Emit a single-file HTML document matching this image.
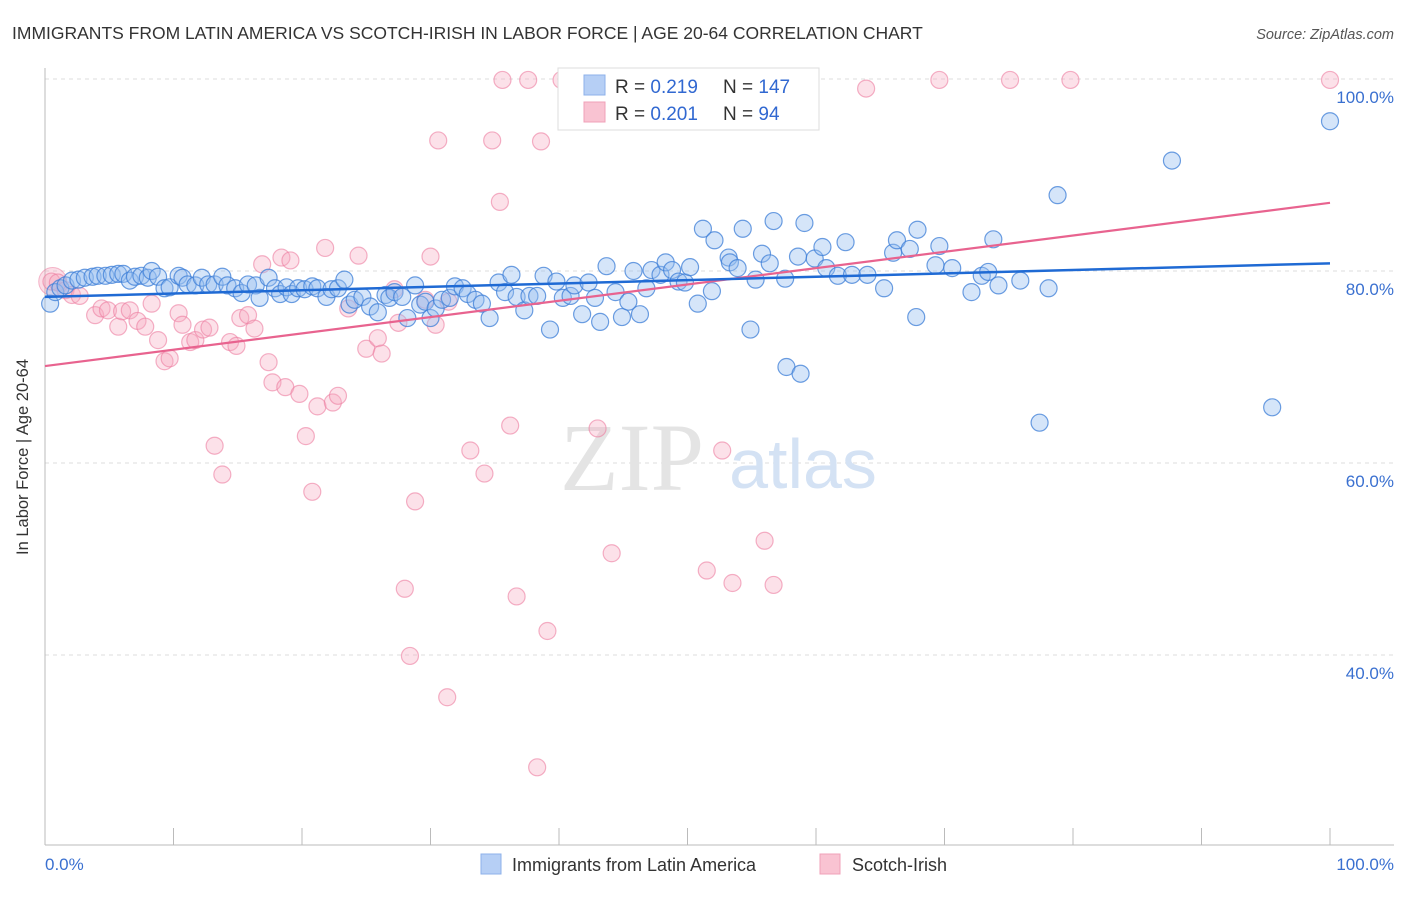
<!DOCTYPE html>
<html><head><meta charset="utf-8"><style>
body{margin:0;background:#fff;font-family:"Liberation Sans",sans-serif;}
svg text{font-family:"Liberation Sans",sans-serif;}
</style></head><body>
<svg id="chart" width="1406" height="892" viewBox="0 0 1406 892">
<text x="12" y="39" font-size="17.5" fill="#333">IMMIGRANTS FROM LATIN AMERICA VS SCOTCH-IRISH IN LABOR FORCE | AGE 20-64 CORRELATION CHART</text>
<text x="1394" y="39" font-size="14.5" fill="#555" font-style="italic" text-anchor="end">Source: ZipAtlas.com</text>
<g id="grid"></g>
<g>
<text x="632" y="490" font-size="96" font-family="Liberation Serif" fill="#e4e4e4" text-anchor="middle" style="font-family:'Liberation Serif',serif">ZIP</text>
<text x="803" y="488" font-size="70" fill="#d4e2f4" text-anchor="middle">atlas</text>
</g>
<line x1="45" y1="68" x2="45" y2="845" stroke="#bbb"/>
<line x1="45" y1="845" x2="1394" y2="845" stroke="#bbb"/>
<g id="xticks"></g>
<g id="yticks"></g>
<g id="pinkpts"></g>
<g id="bluepts"></g>
<g id="trends"></g>
<text x="28" y="457" font-size="16.5" fill="#333" text-anchor="middle" transform="rotate(-90 28 457)">In Labor Force | Age 20-64</text>
<text x="45" y="870" font-size="17" fill="#3a70d0">0.0%</text>
<text x="1394" y="870" font-size="17" fill="#3a70d0" text-anchor="end">100.0%</text>
<g>
<rect x="558" y="68" width="261" height="62" fill="#fff" stroke="#ddd"/>
<rect x="584" y="75" width="21" height="20" fill="#b6cff5" stroke="#8db0ea"/>
<rect x="584" y="102" width="21" height="20" fill="#f9c3d2" stroke="#f0a0b8"/>
<text x="615" y="93" font-size="19" fill="#333">R = <tspan fill="#3168d1">0.219</tspan></text>
<text x="723" y="93" font-size="19" fill="#333">N = <tspan fill="#3168d1">147</tspan></text>
<text x="615" y="120" font-size="19" fill="#333">R = <tspan fill="#3168d1">0.201</tspan></text>
<text x="723" y="120" font-size="19" fill="#333">N = <tspan fill="#3168d1"> 94</tspan></text>
</g>
<g>
<rect x="481" y="854" width="20" height="20" fill="#b6cff5" stroke="#8db0ea"/>
<text x="512" y="871" font-size="18" fill="#333">Immigrants from Latin America</text>
</g>
<g>
<rect x="820" y="854" width="20" height="20" fill="#f9c3d2" stroke="#f0a0b8"/>
<text x="852" y="871" font-size="18" fill="#333">Scotch-Irish</text>
</g>
</svg>
<script>
const yTicks=[100,80,60,40];
const yTickLabels=["100.0%","80.0%","60.0%","40.0%"];
const xTickVals=[0,10,20,30,40,50,60,70,80,90,100];
const blueX=[0.4,0.8,1.2,1.6,2.1,2.6,3.1,3.7,4.1,4.7,5.2,5.7,6.1,6.6,7.0,7.5,8.0,8.3,8.8,9.3,9.7,10.4,10.7,11.1,11.7,12.2,12.7,13.2,13.8,14.2,14.8,15.3,15.8,16.4,16.7,17.4,17.9,18.3,18.8,19.2,19.7,20.2,20.8,21.2,21.9,22.3,22.8,23.3,23.7,24.1,24.7,25.3,25.9,26.5,26.8,27.2,27.8,28.2,28.8,29.2,29.6,30.0,30.4,30.9,31.5,31.9,32.5,32.9,33.5,34.0,34.6,35.3,35.8,36.3,36.7,37.3,37.7,38.3,38.8,39.3,39.8,40.3,40.9,41.2,41.8,42.3,42.8,43.2,43.7,44.4,44.9,45.4,45.8,46.3,46.8,47.2,47.9,48.3,48.8,49.3,49.8,50.2,50.8,51.2,51.9,52.1,53.2,53.3,53.9,54.3,54.9,55.3,55.8,56.4,56.7,57.6,57.7,58.6,58.8,59.1,59.9,60.5,60.8,61.7,62.3,62.8,64.0,65.3,66.0,66.3,67.3,67.8,67.9,69.3,69.6,70.6,72.1,72.9,73.4,73.8,74.2,75.9,77.4,78.1,78.8,87.7,95.5,100.0];
const blueY=[76.6,77.8,78.2,78.5,79.0,79.1,79.3,79.4,79.5,79.5,79.6,79.7,79.7,79.0,79.4,79.5,79.3,80.0,79.4,78.2,78.3,79.5,79.3,78.6,78.5,79.3,78.6,78.6,79.4,78.5,78.2,77.7,78.6,78.5,77.2,79.3,78.2,77.6,78.3,77.6,78.2,78.1,78.4,78.2,77.3,78.1,78.2,79.1,76.5,77.0,77.3,76.3,75.7,77.5,77.2,77.8,77.3,75.1,78.5,76.5,76.8,75.1,76.1,77.0,77.2,78.4,78.2,77.6,77.0,76.6,75.1,78.8,77.8,79.6,77.3,75.9,77.4,77.4,79.5,73.9,78.9,77.2,77.4,78.5,75.5,78.8,77.2,74.7,80.5,77.8,75.2,76.8,80.0,75.5,78.2,80.1,79.6,80.9,80.1,78.9,78.8,80.4,76.6,84.4,77.9,83.2,81.4,80.9,80.3,84.4,73.9,79.1,81.8,80.8,85.2,79.2,70.0,81.5,69.3,85.0,81.3,82.5,80.3,79.5,83.0,79.6,79.6,78.2,81.9,83.2,82.3,75.2,84.3,80.6,82.6,80.3,77.8,79.5,79.9,83.3,78.5,79.0,64.2,78.2,87.9,91.5,65.8,95.6];
const pinkX=[0.5,1.0,1.6,2.1,2.7,3.9,4.4,4.9,5.7,6.0,6.6,7.2,7.8,8.3,8.8,9.3,9.7,10.4,10.7,11.3,11.7,12.3,12.8,13.2,13.8,14.4,14.9,15.2,15.8,16.3,16.9,17.4,17.7,18.4,18.7,19.1,19.8,20.3,20.8,21.2,21.8,22.4,22.8,23.6,24.4,25.0,25.9,26.2,27.2,27.5,28.0,28.4,28.8,29.6,30.0,30.4,30.6,31.3,31.4,33.1,34.2,34.8,35.4,35.6,36.2,36.7,37.6,38.3,38.6,39.1,40.2,43.0,44.1,51.5,52.7,53.5,56.0,56.7,63.9,69.6,75.1,79.8,100.0];
const pinkY=[78.9,78.8,78.0,77.5,77.4,75.4,76.1,75.9,74.2,75.8,75.9,74.8,74.2,76.6,72.8,70.6,70.9,75.6,74.4,72.6,72.8,73.9,74.1,61.8,58.8,72.6,72.2,75.1,75.4,74.0,80.7,70.5,68.4,81.4,67.9,81.1,67.2,62.8,57.0,65.9,82.4,66.3,67.0,76.1,81.6,71.9,73.0,71.4,78.1,74.6,46.9,39.9,56.0,77.0,81.5,74.4,93.6,35.6,76.8,61.3,58.9,93.6,87.2,99.9,63.9,46.1,99.9,28.3,93.5,42.5,99.9,63.6,50.6,48.8,61.3,47.5,51.9,47.3,99.0,99.9,99.9,99.9,99.9];
const blueTrend=[77.3,80.8];
const pinkTrend=[70.1,87.1];
const NS="http://www.w3.org/2000/svg";
const sx=v=>45+v*12.85;
const sy=v=>1039-v*9.6;
function mk(tag,attrs,parent){const e=document.createElementNS(NS,tag);for(const k in attrs)e.setAttribute(k,attrs[k]);parent.appendChild(e);return e;}
const grid=document.getElementById('grid'),yt=document.getElementById('yticks'),xt=document.getElementById('xticks');
yTicks.forEach((v,i)=>{
  const l=mk('line',{x1:45,x2:1394,y1:sy(v),y2:sy(v),stroke:'#ddd','stroke-dasharray':'4,4'},grid);
  
  
  const t=mk('text',{x:1394,y:sy(v)+24,'font-size':17,fill:'#3a70d0','text-anchor':'end'},yt);
  t.textContent=yTickLabels[i];
  
  
});
xTickVals.forEach(v=>{
  const l=mk('line',{x1:sx(v),x2:sx(v),y1:828,y2:845,stroke:'#bbb'},xt);
  
  
});
const bp=document.getElementById('bluepts'),pp=document.getElementById('pinkpts');
mk('circle',{cx:sx(0.6),cy:sy(78.9),r:14,fill:'rgba(244,160,185,0.35)',stroke:'rgba(235,120,155,0.5)'},pp);
pinkX.forEach((x,i)=>{
  const c=mk('circle',{cx:sx(x),cy:sy(pinkY[i]),r:8.5,fill:'rgba(246,170,192,0.35)',stroke:'rgba(236,125,160,0.6)','stroke-width':1.2},pp);
  
  
});
blueX.forEach((x,i)=>{
  const c=mk('circle',{cx:sx(x),cy:sy(blueY[i]),r:8.5,fill:'rgba(150,190,240,0.4)',stroke:'rgba(60,125,215,0.75)','stroke-width':1.2},bp);
  
  
});
const tr=document.getElementById('trends');
const pl=mk('line',{x1:sx(0),y1:sy(pinkTrend[0]),x2:sx(100),y2:sy(pinkTrend[1]),stroke:'#e8638f','stroke-width':2.2},tr);


const bl=mk('line',{x1:sx(0),y1:sy(blueTrend[0]),x2:sx(100),y2:sy(blueTrend[1]),stroke:'#1f6ad4','stroke-width':2.5},tr);


</script>
</body></html>
